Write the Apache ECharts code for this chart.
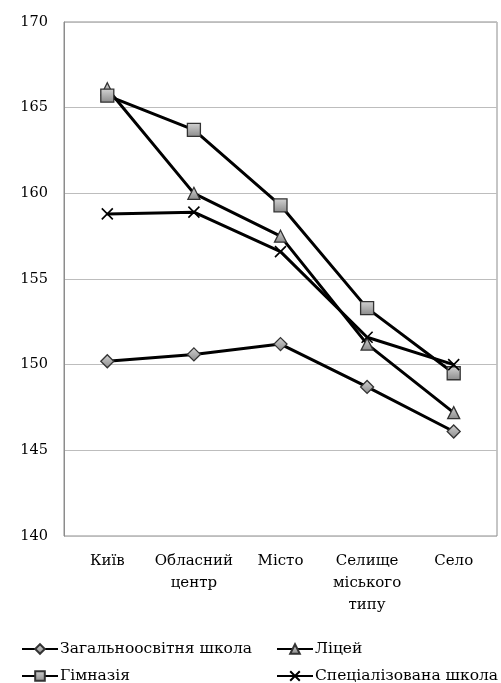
<!DOCTYPE html>
<html><head><meta charset="utf-8">
<script src="https://cdn.jsdelivr.net/npm/echarts@6/dist/echarts.min.js"></script>
<style>html,body{margin:0;padding:0;background:#fff}#c{width:501px;height:683px}</style>
</head><body><div id="c"></div>
<script>
const categories = ['Київ', 'Обласний\nцентр', 'Місто', 'Селище\nміського\nтипу', 'Село'];
const yTicks = [140, 145, 150, 155, 160, 165, 170];
const seriesNames = ['Загальноосвітня школа', 'Ліцей', 'Гімназія', 'Спеціалізована школа'];
const zagalna = [150.2, 150.6, 151.2, 148.7, 146.1];
const litsei = [166.1, 160.0, 157.5, 151.2, 147.2];
const gimnazia = [165.7, 163.7, 159.3, 153.3, 149.5];
const spets = [158.8, 158.9, 156.6, 151.6, 150.0];

const FONT = 'DejaVu Serif';
const crossPath = 'path://M0,0L10,10M10,0L0,10';
const mk = (name, data, symbol, size, isCross) => ({
  name, type: 'line', data, symbol, symbolSize: size,
  lineStyle: { color: '#000', width: 3 },
  itemStyle: isCross
    ? { color: 'none', borderColor: '#000', borderWidth: 1.6 }
    : { color: new echarts.graphic.LinearGradient(0, 0, 0, 1, [{offset: 0, color: '#d4d4d4'}, {offset: 1, color: '#8a8a8a'}]), borderColor: '#333', borderWidth: 1.3 },
  emphasis: { disabled: true },
  z: 3
});
const chart = echarts.init(document.getElementById('c'), null, { renderer: 'canvas' });
const legendBase = {
  itemWidth: 36, itemHeight: 12, itemGap: 2,
  textStyle: { fontFamily: FONT, fontSize: 15.5, color: '#000', padding: [0, 0, 0, -3] }
};
chart.setOption({
  animation: false,
  grid: { left: 64, right: 4, top: 22, bottom: 147, show: true, borderColor: '#8c8c8c', borderWidth: 1 },
  xAxis: {
    type: 'category', data: categories, boundaryGap: true,
    axisLine: { show: false }, axisTick: { show: false },
    axisLabel: { fontFamily: FONT, fontSize: 15, color: '#000', margin: 14, lineHeight: 22, interval: 0 }
  },
  yAxis: {
    type: 'value', min: yTicks[0], max: yTicks[yTicks.length - 1], interval: 5,
    axisLine: { show: true, lineStyle: { color: '#8c8c8c' } }, axisTick: { show: false },
    splitLine: { lineStyle: { color: '#bdbdbd', width: 1 } },
    axisLabel: { fontFamily: FONT, fontSize: 14.5, color: '#000', margin: 16 }
  },
  legend: [
    Object.assign({}, legendBase, { data: [seriesNames[0]], left: 16, top: 636 }),
    Object.assign({}, legendBase, { data: [seriesNames[1]], left: 271, top: 636 }),
    Object.assign({}, legendBase, { data: [seriesNames[2]], left: 16, top: 663 }),
    Object.assign({}, legendBase, { data: [seriesNames[3]], left: 271, top: 663 })
  ],
  series: [
    mk(seriesNames[0], zagalna, 'diamond', 13),
    mk(seriesNames[1], litsei, 'triangle', 12),
    mk(seriesNames[2], gimnazia, 'rect', 13),
    mk(seriesNames[3], spets, crossPath, 11, true)
  ]
});
</script></body></html>
